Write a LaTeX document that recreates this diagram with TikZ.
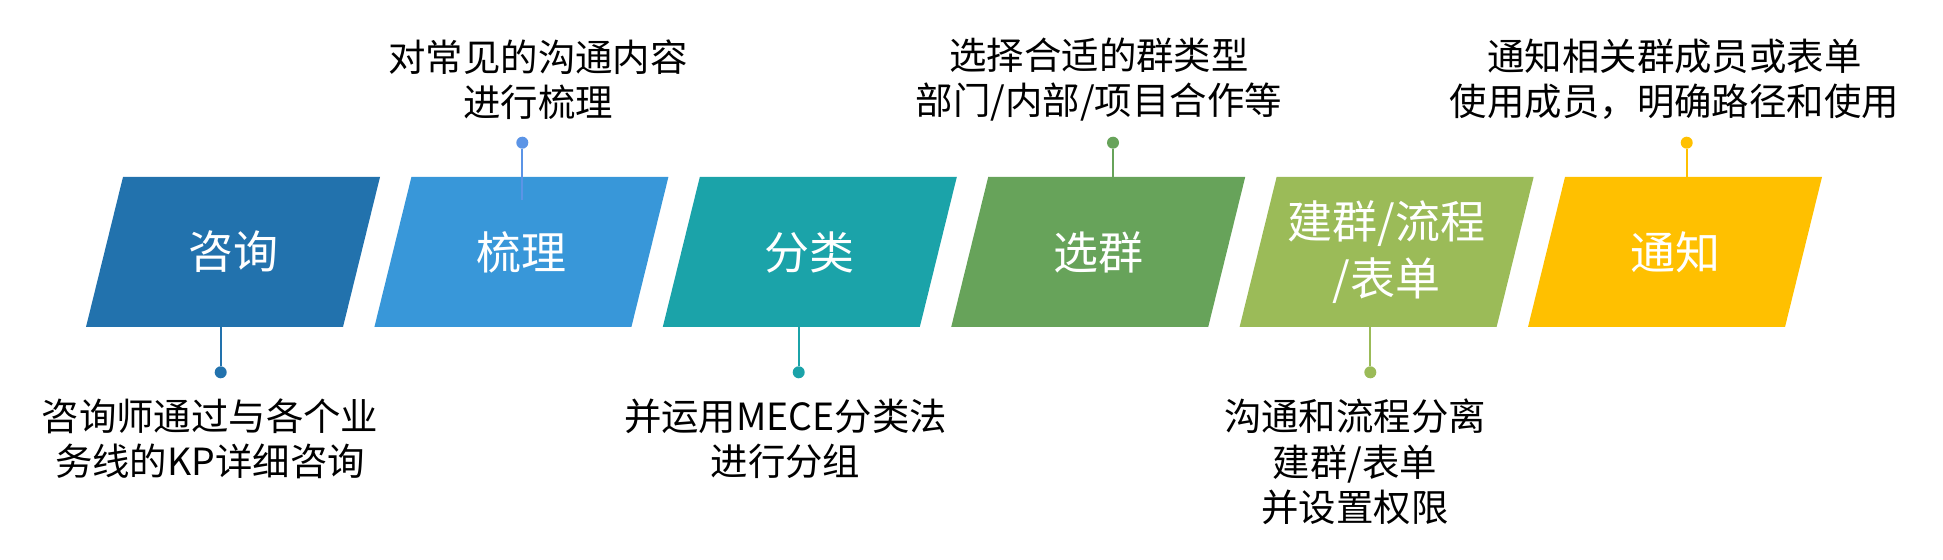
\documentclass[tikz,border=0pt]{standalone}
\usepackage{fontspec}
\setmainfont{Noto Sans CJK SC}
\definecolor{cA}{HTML}{2272AD}
\definecolor{cB}{HTML}{3897D9}
\definecolor{cBdot}{HTML}{5B94E6}
\definecolor{cC}{HTML}{1BA3A9}
\definecolor{cD}{HTML}{67A35A}
\definecolor{cE}{HTML}{9BBB58}
\definecolor{cF}{HTML}{FFC000}
\tikzset{
	stage/.style={minimum width=4.4cm,minimum height=3cm,inner sep=0pt,text=white,align=center,
		font=\fontsize{25.6}{32.4}\selectfont},
	dot/.style={circle,fill=#1,inner sep=0pt,minimum size=0.24cm},
	pin/.style={draw=#1,line width=1.2pt},
	note/.style={align=center,font=\fontsize{21.3}{25.9}\selectfont}
}
% slanted box: name, centre x, colour, text
\newcommand{\stagebox}[4]{
	\fill[#3] (#2-110,177) -- (#2+147,177) -- (#2+110,327) -- (#2-147,327) -- cycle;
	\node[stage] (#1) at (#2,252) {#4};
}

\begin{document}
\begin{tikzpicture}[x=0.02cm,y=-0.02cm]
			\useasboundingbox (0,0) rectangle (1943,560);
			% stages
			\stagebox{s1}{233}{cA}{咨询}
			\stagebox{s2}{521.4}{cB}{梳理}
			\stagebox{s3}{809.8}{cC}{分类}
			\stagebox{s4}{1098.2}{cD}{选群}
			\stagebox{s5}{1386.6}{cE}{建群/流程\\/表单}
			\stagebox{s6}{1675}{cF}{通知}
			% dots
			\node[dot=cA] (d1) at (220.7,372.3) {};
			\node[dot=cBdot] (d2) at (522.3,142.7) {};
			\node[dot=cC] (d3) at (798.7,372.3) {};
			\node[dot=cD] (d4) at (1113,142.7) {};
			\node[dot=cE] (d5) at (1370.3,372.3) {};
			\node[dot=cF] (d6) at (1686.7,142.7) {};
			% pins
			\draw[pin=cA] (d1) -- (d1 |- s1.south);
			\draw[pin=cBdot] (d2) -- (d2 |- s2.north) -- ++(0,23);
			\draw[pin=cC] (d3) -- (d3 |- s3.south);
			\draw[pin=cD] (d4) -- (d4 |- s4.north);
			\draw[pin=cE] (d5) -- (d5 |- s5.south);
			\draw[pin=cF] (d6) -- (d6 |- s6.north);
			% notes above
			\node[note] (n2) at (538,79.5) {对常见的沟通内容\\进行梳理};
			\node[note] (n4) at (1099,79.5) {选择合适的群类型\\部门/内部/项目合作等};
			\node[note] (n6) at (1674.5,79.5) {通知相关群成员或表单\\使用成员，明确路径和使用};
			% notes below
			\node[note] (n1) at (210,439) {咨询师通过与各个业\\务线的KP详细咨询};
			\node[note] (n3) at (785.5,439) {并运用MECE分类法\\进行分组};
			\node[note] (n5) at (1355,462) {沟通和流程分离\\建群/表单\\并设置权限};
		\end{tikzpicture}
\end{document}
